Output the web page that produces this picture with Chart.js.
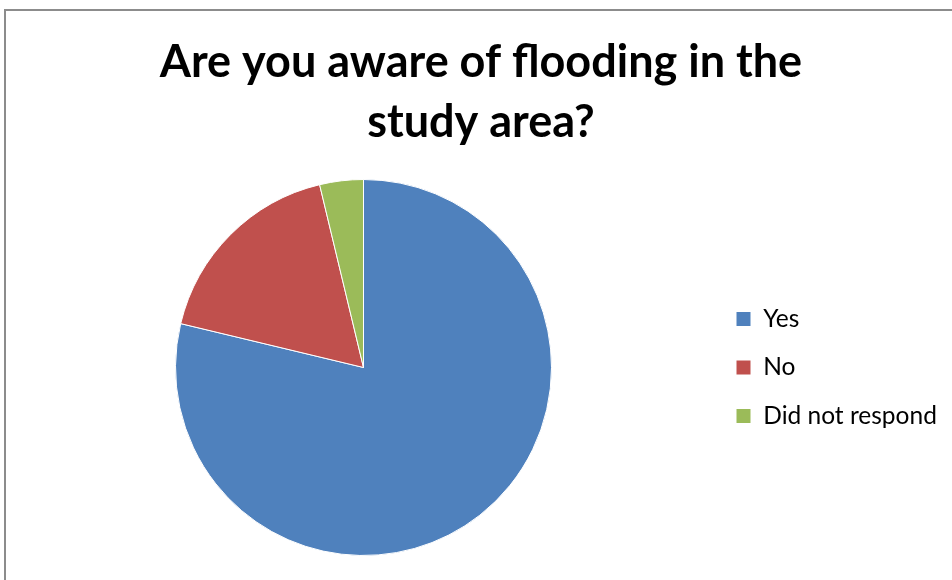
<!DOCTYPE html>
<html>
<head>
<meta charset="utf-8">
<title>Are you aware of flooding in the study area?</title>
<script src="https://cdn.jsdelivr.net/npm/chart.js@4.4.1/dist/chart.umd.min.js"></script>
<style>
    html, body { margin: 0; padding: 0; background: #fff; overflow: hidden; }
    .frame {
        position: absolute; left: 4px; top: 9px; width: 1000px; height: 640px;
        border-left: 2px solid #8c8c8c; border-top: 2px solid #8c8c8c;
    }
    .chart-box { position: absolute; left: 0; top: 0; width: 952px; height: 580px; }
</style>
</head>
<body>
<div class="frame"></div>
<div class="chart-box"><canvas id="awareness"></canvas></div>
<script>
const titleLines = ['Are you aware of flooding in the', 'study area?'];
const answers = ['Yes', 'No', 'Did not respond'];
const responses = [63, 14, 3];
const sliceColors = ['#4F81BD', '#C0504D', '#9BBB59'];

const legendFont = { family: 'Lato', size: 24.5 };
const legendBox = 15;

// work out the legend width so the legend sits where it does in the original
const probe = document.createElement('canvas').getContext('2d');
probe.font = legendFont.size + 'px ' + legendFont.family;
const longest = Math.max(...answers.map(a => probe.measureText(a).width));
const itemWidth = legendBox + legendFont.size / 2 + longest;
const rightPad = 206 - itemWidth;

new Chart(document.getElementById('awareness'), {
    type: 'pie',
    data: {
        labels: answers,
        datasets: [{
            data: responses,
            backgroundColor: sliceColors,
            borderColor: '#ffffff',
            borderWidth: 1
        }]
    },
    options: {
        responsive: true,
        maintainAspectRatio: false,
        animation: false,
        layout: {
            padding: { top: 0, bottom: 24, left: 15, right: rightPad }
        },
        plugins: {
            title: {
                display: true,
                text: titleLines,
                color: '#000',
                font: { family: 'Lato', weight: 'bold', size: 45, lineHeight: 60 / 45 },
                padding: { top: 32, bottom: 27 }
            },
            legend: {
                position: 'right',
                fullSize: false,
                labels: {
                    color: '#000',
                    font: legendFont,
                    boxWidth: legendBox,
                    boxHeight: legendBox,
                    padding: 24
                }
            },
            tooltip: { enabled: false }
        }
    }
});
</script>
</body>
</html>
